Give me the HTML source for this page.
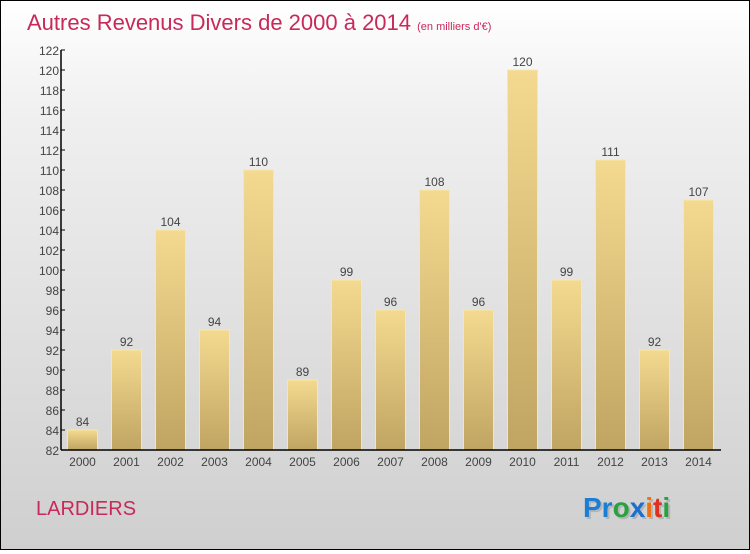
<!DOCTYPE html>
<html><head><meta charset="utf-8"><style>
html,body{margin:0;padding:0;}
body{width:750px;height:550px;overflow:hidden;font-family:"Liberation Sans",sans-serif;}
#wrap{position:relative;width:748px;height:548px;border:1px solid #000;background:linear-gradient(#fff,#f0f0f0 20%,#cfcfcf);}
</style></head><body>
<div id="wrap">
<svg id="chart" width="748" height="548">
<defs><linearGradient id="bg" x1="0" y1="0" x2="0" y2="1"><stop offset="0" stop-color="#f4da90"/><stop offset="1" stop-color="#c0a462"/></linearGradient></defs>
<text x="26" y="29" font-size="22" fill="#c8285a">Autres Revenus Divers de 2000 à 2014 <tspan font-size="11">(en milliers d'€)</tspan></text>
<text x="35" y="514" font-size="20" fill="#c8285a">LARDIERS</text>
<g font-size="28" font-weight="bold" font-family="Liberation Sans,sans-serif"><text x="584" y="518" fill="#999" opacity="0.5">Proxiti</text><text x="582" y="516"><tspan fill="#1a7fd4">Pr</tspan><tspan fill="#2aa040">o</tspan><tspan fill="#1a6fd0">x</tspan><tspan fill="#f07010">i</tspan><tspan fill="#e03020">t</tspan><tspan fill="#2aa040">i</tspan></text></g>
<g id="bars"></g><g id="axes"></g>
</svg></div>
<script>
const years=["2000","2001","2002","2003","2004","2005","2006","2007","2008","2009","2010","2011","2012","2013","2014"];
const values=[84,92,104,94,110,89,99,96,108,96,120,99,111,92,107];
const yTicks=[82,84,86,88,90,92,94,96,98,100,102,104,106,108,110,112,114,116,118,120,122];
const NS="http://www.w3.org/2000/svg";
const x0=60,x1=720,yMin=82,yMax=122,py0=449,py1=49;
const band=(x1-x0)/years.length;
const y=v=>py0-(v-yMin)/(yMax-yMin)*(py0-py1);
const bx=i=>x0+i*band;
function mk(t,a,p){const e=document.createElementNS(NS,t);for(const k in a)e.setAttribute(k,a[k]);p.appendChild(e);return e;}
const bars=document.getElementById('bars'),axes=document.getElementById('axes');
values.forEach((v,i)=>{
const r=mk('rect',{x:bx(i)+6.5,y:y(v),width:30,height:py0-y(v),fill:'url(#bg)',stroke:'#f8e8a8','stroke-width':1},bars);


const t=mk('text',{x:bx(i)+21.5,y:y(v)-4,'font-size':12,'text-anchor':'middle',fill:'#444'},bars);t.textContent=v;


const xl=mk('text',{x:bx(i)+21.5,y:py0+16,'font-size':12,'text-anchor':'middle',fill:'#444'},axes);xl.textContent=years[i];


});
yTicks.forEach(v=>{
mk('line',{x1:x0,x2:x0+4,y1:y(v),y2:y(v),stroke:'#000'},axes);
const t=mk('text',{x:x0-2,y:y(v)+5,'font-size':12,'text-anchor':'end',fill:'#444'},axes);t.textContent=v;


});
const ya=mk('line',{x1:x0,x2:x0,y1:py1,y2:py0,stroke:'#000','stroke-width':1.5},axes);


const xa=mk('line',{x1:x0,x2:x1,y1:py0,y2:py0,stroke:'#000','stroke-width':1.5},axes);


</script>
</body></html>
